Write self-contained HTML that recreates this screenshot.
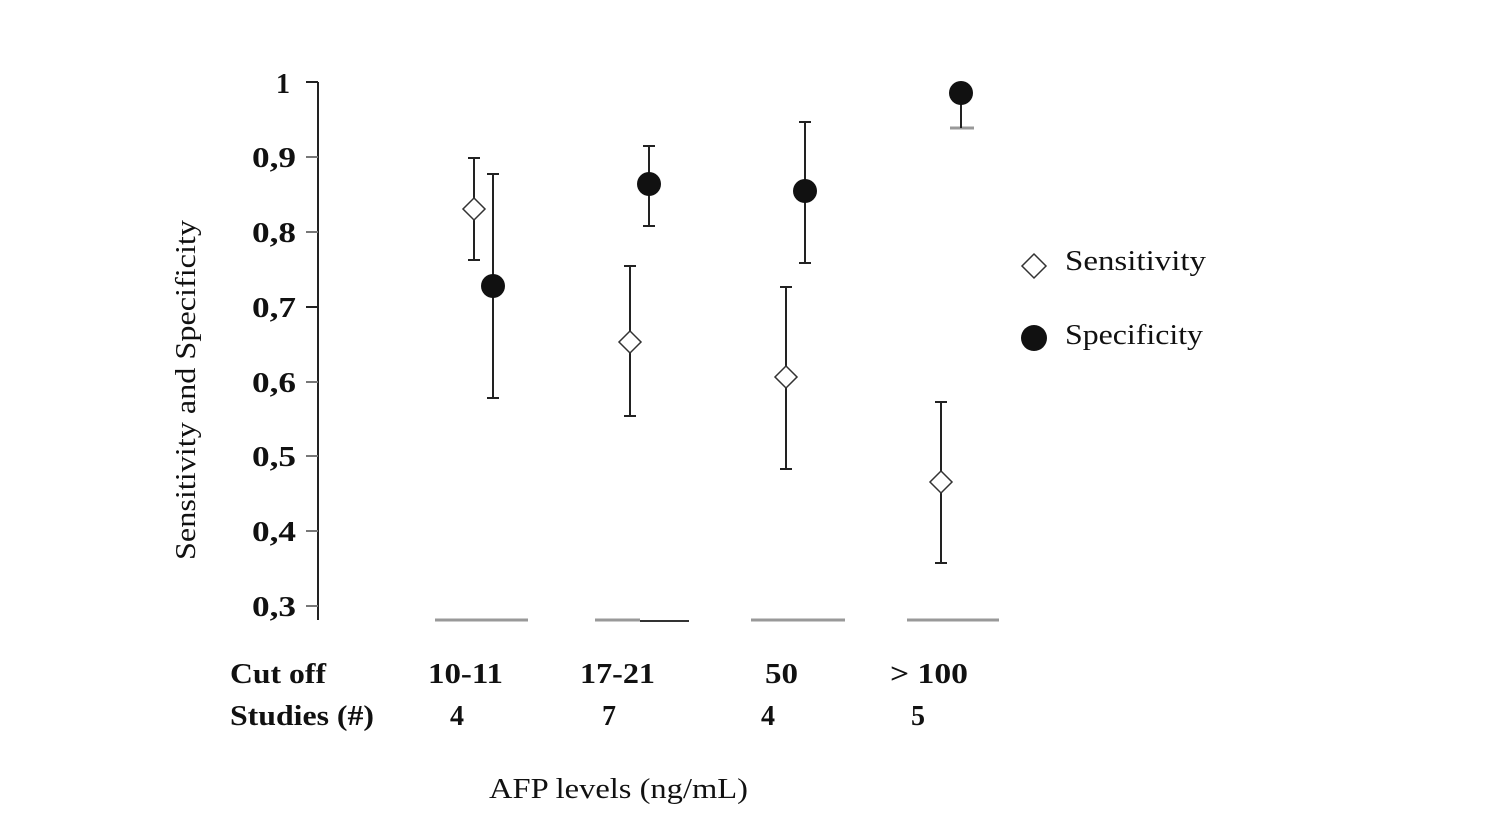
<!DOCTYPE html>
<html><head><style>body{margin:0;background:#fff}</style></head><body>
<svg width="1500" height="820" xmlns="http://www.w3.org/2000/svg" font-family="Liberation Serif, serif">
<g stroke="#222" stroke-width="2" fill="none">
<line x1="318" y1="82" x2="318" y2="620"/>
<line x1="306" y1="82" x2="318" y2="82"/>
<line x1="306" y1="157" x2="318" y2="157" stroke="#777"/>
<line x1="306" y1="232" x2="318" y2="232" stroke="#777"/>
<line x1="306" y1="307" x2="318" y2="307"/>
<line x1="306" y1="382" x2="318" y2="382" stroke="#777"/>
<line x1="306" y1="456" x2="318" y2="456" stroke="#777"/>
<line x1="306" y1="531" x2="318" y2="531" stroke="#777"/>
<line x1="306" y1="606" x2="318" y2="606" stroke="#777"/>
</g>
<g stroke="#999" stroke-width="3">
<line x1="435" y1="620" x2="528" y2="620"/>
<line x1="595" y1="620" x2="640" y2="620"/>
<line x1="751" y1="620" x2="845" y2="620"/>
<line x1="907" y1="620" x2="999" y2="620"/>
<line x1="950" y1="128" x2="974" y2="128"/>
</g>
<line x1="640" y1="621" x2="689" y2="621" stroke="#333" stroke-width="2"/>
<g stroke="#222" stroke-width="2">
<line x1="474" y1="158" x2="474" y2="260"/><line x1="468" y1="158" x2="480" y2="158"/><line x1="468" y1="260" x2="480" y2="260"/>
<line x1="630" y1="266" x2="630" y2="416"/><line x1="624" y1="266" x2="636" y2="266"/><line x1="624" y1="416" x2="636" y2="416"/>
<line x1="786" y1="287" x2="786" y2="469"/><line x1="780" y1="287" x2="792" y2="287"/><line x1="780" y1="469" x2="792" y2="469"/>
<line x1="941" y1="402" x2="941" y2="563"/><line x1="935" y1="402" x2="947" y2="402"/><line x1="935" y1="563" x2="947" y2="563"/>
<line x1="493" y1="174" x2="493" y2="398"/><line x1="487" y1="174" x2="499" y2="174"/><line x1="487" y1="398" x2="499" y2="398"/>
<line x1="649" y1="146" x2="649" y2="226"/><line x1="643" y1="146" x2="655" y2="146"/><line x1="643" y1="226" x2="655" y2="226"/>
<line x1="805" y1="122" x2="805" y2="263"/><line x1="799" y1="122" x2="811" y2="122"/><line x1="799" y1="263" x2="811" y2="263"/>
<line x1="961" y1="93" x2="961" y2="128"/>
</g>
<g fill="#fff" stroke="#333" stroke-width="1.5">
<polygon points="474,198 485,209 474,220 463,209"/>
<polygon points="630,331 641,342 630,353 619,342"/>
<polygon points="786,366 797,377 786,388 775,377"/>
<polygon points="941,471 952,482 941,493 930,482"/>
<polygon points="1034,254 1046,266 1034,278 1022,266"/>
</g>
<g fill="#111">
<circle cx="493" cy="286" r="12"/><circle cx="649" cy="184" r="12"/><circle cx="805" cy="191" r="12"/><circle cx="961" cy="93" r="12"/>
<circle cx="1034" cy="338" r="13"/>
</g>
<g font-size="28" font-weight="bold" fill="#111" lengthAdjust="spacingAndGlyphs">
<text x="276" y="93" textLength="14" lengthAdjust="spacingAndGlyphs">1</text>
<text x="252" y="167" textLength="44" lengthAdjust="spacingAndGlyphs">0,9</text>
<text x="252" y="242" textLength="44" lengthAdjust="spacingAndGlyphs">0,8</text>
<text x="252" y="317" textLength="44" lengthAdjust="spacingAndGlyphs">0,7</text>
<text x="252" y="392" textLength="44" lengthAdjust="spacingAndGlyphs">0,6</text>
<text x="252" y="466" textLength="44" lengthAdjust="spacingAndGlyphs">0,5</text>
<text x="252" y="541" textLength="44" lengthAdjust="spacingAndGlyphs">0,4</text>
<text x="252" y="616" textLength="44" lengthAdjust="spacingAndGlyphs">0,3</text>
</g>
<g font-size="28" font-weight="bold" fill="#111">
<text x="230" y="683" textLength="96" lengthAdjust="spacingAndGlyphs">Cut off</text>
<text x="428" y="683" textLength="75" lengthAdjust="spacingAndGlyphs">10-11</text>
<text x="580" y="683" textLength="75" lengthAdjust="spacingAndGlyphs">17-21</text>
<text x="765" y="683" textLength="33" lengthAdjust="spacingAndGlyphs">50</text>
<text x="890" y="683" textLength="78" lengthAdjust="spacingAndGlyphs">&gt; 100</text>
<text x="230" y="725" textLength="144" lengthAdjust="spacingAndGlyphs">Studies (#)</text>
<text x="450" y="725">4</text><text x="602" y="725">7</text><text x="761" y="725">4</text><text x="911" y="725">5</text>
</g>
<text x="195" y="390" font-size="28" text-anchor="middle" transform="rotate(-90 195 390)" fill="#111" textLength="340" lengthAdjust="spacingAndGlyphs">Sensitivity and Specificity</text>
<text x="1065" y="270" font-size="29" fill="#111" textLength="141" lengthAdjust="spacingAndGlyphs">Sensitivity</text>
<text x="1065" y="344" font-size="29" fill="#111" textLength="138" lengthAdjust="spacingAndGlyphs">Specificity</text>
<text x="489" y="798" font-size="29" fill="#111" textLength="259" lengthAdjust="spacingAndGlyphs">AFP levels (ng/mL)</text>
</svg>
</body></html>
